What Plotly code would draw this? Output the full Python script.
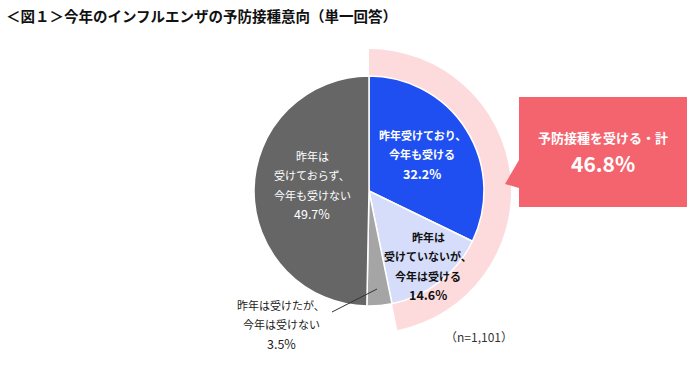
import plotly.graph_objects as go

# ---- data ----
categories = ["昨年受けており、今年も受ける", "昨年は受けていないが、今年は受ける",
              "昨年は受けたが、今年は受けない", "昨年は受けておらず、今年も受けない"]
values = [32.2, 14.6, 3.5, 49.7]
label_lines = [
    ["昨年受けており、", "今年も受ける"],
    ["昨年は", "受けていないが、", "今年は受ける"],
    ["昨年は受けたが、", "今年は受けない"],
    ["昨年は", "受けておらず、", "今年も受けない"],
]
total_label = "予防接種を受ける・計"
total_value = round(values[0] + values[1], 1)
title = "＜図１＞今年のインフルエンザの予防接種意向（単一回答）"
note = "（n=1,101）"

# ---- styling ----
W, H = 700, 367
FONT = "Noto Sans CJK JP, Meiryo, sans-serif"
slice_colors = ["#1F4FF0", "#D5DDFA", "#A5A5A5", "#666666"]
ring_color = "#FDDADB"
callout_color = "#F4646F"

cx, cy = 369, 191
r_pie, r_ring = 115, 142


def dom(r):
    return dict(x=[(cx - r) / W, (cx + r) / W],
                y=[1 - (cy + r) / H, 1 - (cy - r) / H])


fig = go.Figure()
fig.add_trace(go.Pie(
    values=[total_value, 100 - total_value], sort=False, direction="clockwise",
    rotation=0, marker=dict(colors=[ring_color, "rgba(0,0,0,0)"], line=dict(width=0)),
    textinfo="none", hoverinfo="skip", showlegend=False, domain=dom(r_ring)))
fig.add_trace(go.Pie(
    labels=categories, values=values, sort=False, direction="clockwise",
    rotation=0, marker=dict(colors=slice_colors, line=dict(color="white", width=1.5)),
    textinfo="none", showlegend=False, domain=dom(r_pie)))

ann = []


def txt(x, y, s, size=12, color="#222", bold=False, anchor="center"):
    ann.append(dict(x=x, y=y, xref="x", yref="y", text=f"<b>{s}</b>" if bold else s,
                    showarrow=False, xanchor=anchor, yanchor="middle",
                    font=dict(family=FONT, size=size, color=color)))


# labels
spec = [
    (422, 135, "white", True),
    (428, 237, "#111", True),
    (281, 305, "#222", False),
    (312, 156, "white", False),
]
for i, (x, y0, col, b) in enumerate(spec):
    lines = label_lines[i]
    for j, s in enumerate(lines):
        txt(x, y0 + j * 19.3, s, 11, col, b)
    txt(x, y0 + len(lines) * 19.3, f"{values[i]:.1f}%", 12.5, col, b)

# leader line for small slice
shapes = [dict(type="line", xref="x", yref="y", x0=332, y0=312, x1=377, y1=289,
               line=dict(color="#333", width=1))]

# callout
shapes.append(dict(type="path", xref="x", yref="y",
                   path="M 519 97 L 687 97 L 687 207 L 519 207 L 519 188 L 505 184 L 519 160 Z",
                   fillcolor=callout_color, line=dict(width=0)))
txt(603, 137, total_label, 13, "white", True)
txt(603, 163, f"{total_value:.1f}%", 21, "white", True)

txt(479, 336, note, 12, "#333")
txt(4, 15, title, 14.5, "#111", True, anchor="left")

fig.update_layout(
    width=W, height=H, margin=dict(l=0, r=0, t=0, b=0),
    paper_bgcolor="white", plot_bgcolor="rgba(0,0,0,0)",
    xaxis=dict(range=[0, W], visible=False, fixedrange=True),
    yaxis=dict(range=[H, 0], visible=False, fixedrange=True),
    shapes=shapes, annotations=ann,
)
fig.write_html("out.html", config={"displayModeBar": False},
               post_script="document.body.style.margin='0';document.body.style.overflow='hidden';")
